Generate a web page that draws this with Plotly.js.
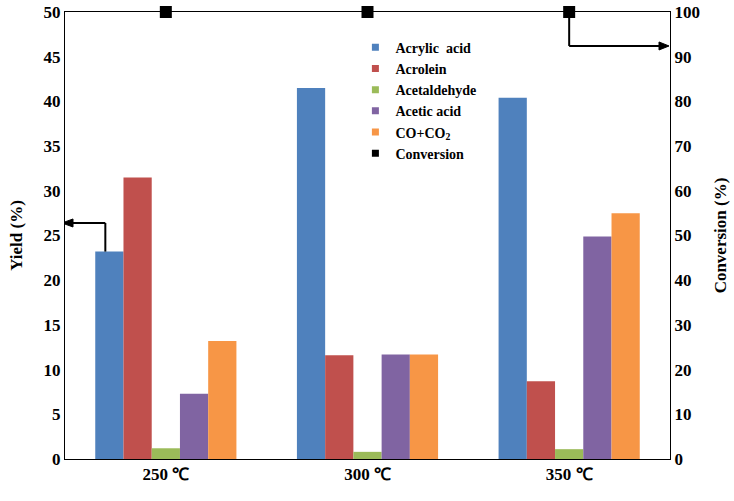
<!DOCTYPE html>
<html>
<head>
<meta charset="utf-8">
<script src="https://cdn.plot.ly/plotly-3.0.1.min.js"></script>
<style>html,body{margin:0;padding:0;background:#fff;}#chart{width:734px;height:501px;}</style>
</head>
<body>
<div id="chart"></div>
<script>
const categories = ['250 ℃', '300 ℃', '350 ℃'];
const acrylicAcid = [23.2, 41.5, 40.4];
const acrolein = [31.5, 11.6, 8.7];
const acetaldehyde = [1.2, 0.8, 1.1];
const aceticAcid = [7.3, 11.7, 24.9];
const coCo2 = [13.2, 11.7, 27.5];
const conversion = [100, 100, 100];

const FONT = 'Liberation Serif, Times New Roman, serif';
const barNames = ['Acrylic  acid', 'Acrolein', 'Acetaldehyde', 'Acetic acid', 'CO+CO<sub>2</sub>'];
const barData = [acrylicAcid, acrolein, acetaldehyde, aceticAcid, coCo2];
const colors = ['#4F81BD', '#C0504D', '#9BBB59', '#8064A2', '#F79646'];

const traces = barData.map((vals, i) => ({
  type: 'bar', name: barNames[i], x: categories, y: vals, showlegend: false,
  marker: {color: colors[i], line: {width: 0}}, yaxis: 'y'
}));
traces.push({
  type: 'scatter', mode: 'markers', name: 'Conversion', x: categories, y: conversion,
  yaxis: 'y2', marker: {symbol: 'square', size: 12, color: '#000'}, cliponaxis: false, showlegend: false
});
// legend entries (small square keys as in the reference)
barNames.concat(['Conversion']).forEach((n, i) => {
  traces.push({type: 'scatter', mode: 'markers', name: n, x: [null], y: [null],
    marker: {symbol: 'square', size: 7, color: i < 5 ? colors[i] : '#000'}, showlegend: true});
});

const tf = {family: FONT, size: 17, weight: 'bold', color: '#000'};

const layout = {
  width: 734, height: 501,
  margin: {l: 65, r: 64, t: 12, b: 42},
  paper_bgcolor: '#fff', plot_bgcolor: '#fff',
  barmode: 'group', bargap: 0.3, bargroupgap: 0,
  font: {family: FONT, color: '#000', size: 15},
  showlegend: true,
  legend: {x: 0.48, y: 0.956, xanchor: 'left', yanchor: 'top', bgcolor: 'rgba(0,0,0,0)',
           font: {family: FONT, size: 14, color: '#000', weight: 'bold'}, tracegroupgap: 0, itemwidth: 30},
  xaxis: {type: 'category', range: [-0.5, 2.5], showline: true, linecolor: '#000', linewidth: 1, mirror: true,
          ticks: '', tickfont: tf, showgrid: false, zeroline: false},
  yaxis: {range: [0, 50], dtick: 5, showline: true, linecolor: '#000', linewidth: 1, ticks: '',
          showgrid: false, zeroline: false, tickfont: tf,
          title: {text: 'Yield (%)', font: tf, standoff: 16}},
  yaxis2: {range: [0, 100], dtick: 10, overlaying: 'y', side: 'right', showline: true, linecolor: '#000',
           linewidth: 1, ticks: '', showgrid: false, zeroline: false, tickfont: tf,
           title: {text: 'Conversion (%)', font: tf, standoff: 15}},
  shapes: [
    // left arrow: up from the 250 ℃ acrylic bar, then left to the Yield axis
    {type: 'line', xref: 'x', yref: 'y', x0: -0.3, x1: -0.3, y0: 23.2, y1: 26.4, line: {color: '#000', width: 2}},
    {type: 'line', xref: 'x', yref: 'y', x0: -0.3, x1: -0.47, y0: 26.4, y1: 26.4, line: {color: '#000', width: 2}},
    {type: 'path', xref: 'x', yref: 'y', xsizemode: 'pixel', ysizemode: 'pixel', xanchor: -0.5, yanchor: 26.4,
     path: 'M -3 0 L 8 4 L 8 -4 Z', fillcolor: '#000', line: {color: '#000', width: 1}},
    // right arrow: down from the 350 ℃ conversion point, then right to the Conversion axis
    {type: 'line', xref: 'x', yref: 'y2', x0: 2, x1: 2, y0: 100, y1: 92.4, line: {color: '#000', width: 2}},
    {type: 'line', xref: 'x', yref: 'y2', x0: 2, x1: 2.47, y0: 92.4, y1: 92.4, line: {color: '#000', width: 2}},
    {type: 'path', xref: 'x', yref: 'y2', xsizemode: 'pixel', ysizemode: 'pixel', xanchor: 2.5, yanchor: 92.4,
     path: 'M -1 0 L -11 4 L -11 -4 Z', fillcolor: '#000', line: {color: '#000', width: 1}}
  ]
};

Plotly.newPlot('chart', traces, layout, {displayModeBar: false, staticPlot: true});
</script>
</body>
</html>
